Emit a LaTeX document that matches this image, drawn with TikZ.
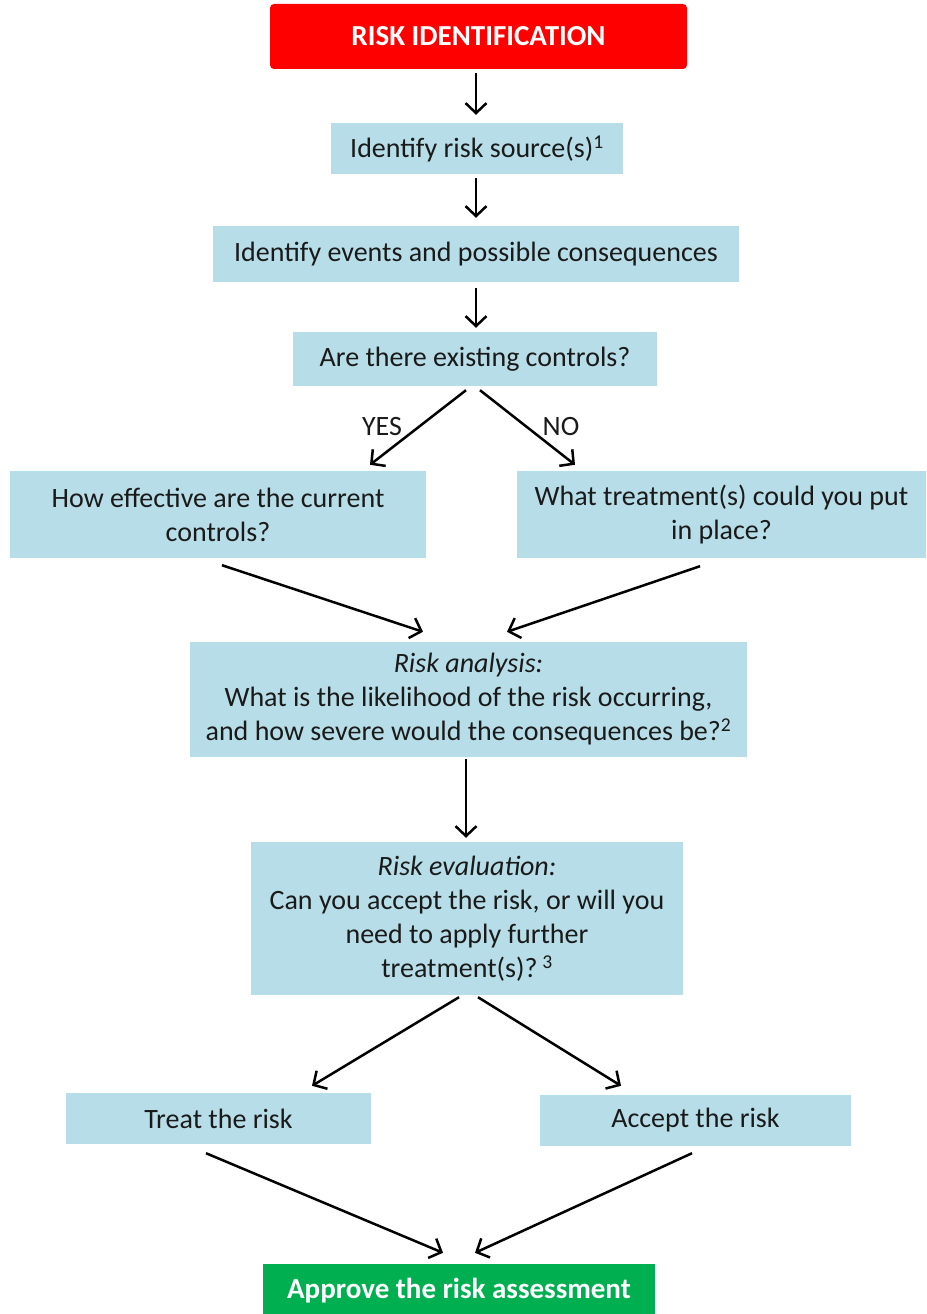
\documentclass[tikz,border=0pt]{standalone}
\usepackage{fontspec}
\setmainfont{Carlito}
\usetikzlibrary{arrows.meta,calc}
\definecolor{boxblue}{HTML}{B7DEE8}
\definecolor{riskred}{HTML}{FF0000}
\definecolor{okgreen}{HTML}{00B050}
\definecolor{txt}{HTML}{1A1A1A}
\begin{document}
\begin{tikzpicture}[x=1pt,y=-1pt,
  every node/.style={font=\fontsize{28}{34}\selectfont, text=txt},
  box/.style={rectangle, fill=boxblue, inner sep=0pt, align=center},
  hdr/.style={rectangle, inner sep=0pt, text=white, font=\fontsize{29}{34}\selectfont\bfseries},
  arr/.style={draw=black, line width=2.5pt, -{Straight Barb[length=10pt,width=21pt,line width=2.5pt]}},
  lbl/.style={inner sep=0pt}
]
\useasboundingbox (0,0) rectangle (926,1314);
\fill[white] (0,0) rectangle (926,1314);

\node[hdr, rounded corners=4pt, fill=riskred, minimum width=417pt, minimum height=65pt] (red) at (478.5,36.5) {RISK IDENTIFICATION};
\node[box, minimum width=292pt, minimum height=51pt] (src) at (477,148.5) {Identify risk source(s)\textsuperscript{1}};
\node[box, minimum width=526pt, minimum height=56pt] (ev) at (476,254) {Identify events and possible consequences};
\node[box, minimum width=364pt, minimum height=54pt] (ctrl) at (475,359) {Are there existing controls?};
\node[box, minimum width=416pt, minimum height=87pt] (eff) at (218,514.5) {How effective are the current\\controls?};
\node[box, minimum width=409pt, minimum height=87pt] (trt) at (721.5,514.5) {What treatment(s) could you put\\in place?};
\node[box, minimum width=557pt, minimum height=115pt] (ana) at (468.5,699.5) {\textit{Risk analysis:}\\What is the likelihood of the risk occurring,\\and how severe would the consequences be?\textsuperscript{2}};
\node[box, minimum width=432pt, minimum height=153pt] (evl) at (467,918.5) {\textit{Risk evaluation:}\\Can you accept the risk, or will you\\need to apply further\\treatment(s)?\,\textsuperscript{3}};
\node[box, minimum width=305pt, minimum height=51pt] (treat) at (218.5,1118.5) {Treat the risk};
\node[box, minimum width=311pt, minimum height=51pt] (acc) at (695.5,1120.5) {Accept the risk};
\node[hdr, fill=okgreen, minimum width=392pt, minimum height=54pt] (app) at (459,1291) {Approve the risk assessment};

\node[lbl] (yes) at (382,427) {YES};
\node[lbl] (no) at (561,427) {NO};

\draw[arr] ($(red.south)+(-2.5,4)$) -- ($(src.north)+(-1,-8)$);
\draw[arr] ($(src.south)+(-1,4)$) -- ($(ev.north)+(0,-8)$);
\draw[arr] ($(ev.south)+(0,6)$) -- ($(ctrl.north)+(1,-4)$);
\draw[arr] ($(ctrl.south)+(-9,4)$) -- ($(eff.north)+(152,-6)$);
\draw[arr] ($(ctrl.south)+(5,4)$) -- ($(trt.north)+(-146.5,-6)$);
\draw[arr] ($(eff.south)+(4,7)$) -- ($(ana.north)+(-45.5,-10)$);
\draw[arr] ($(trt.south)+(-21.5,8)$) -- ($(ana.north)+(38.5,-10)$);
\draw[arr] ($(ana.south)+(-2.5,2)$) -- ($(evl.north)+(-1,-4)$);
\draw[arr] ($(evl.south)+(-8,2)$) -- ($(treat.north)+(93.5,-7)$);
\draw[arr] ($(evl.south)+(11,2)$) -- ($(acc.north)+(-74.5,-9)$);
\draw[arr] ($(treat.south)+(-12.5,9)$) -- ($(app.north)+(-16,-11)$);
\draw[arr] ($(acc.south)+(-3.5,7)$) -- ($(app.north)+(16,-11)$);
\end{tikzpicture}
\end{document}
